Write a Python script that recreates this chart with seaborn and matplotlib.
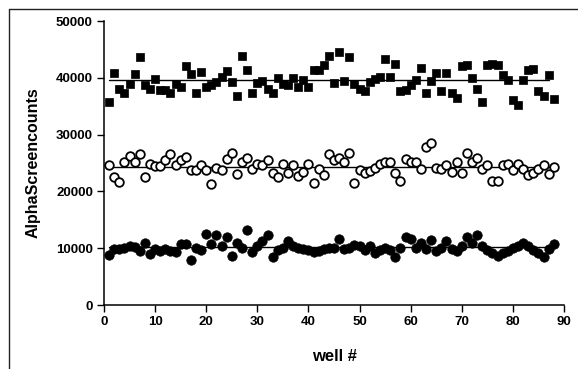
import numpy as np
import pandas as pd
import matplotlib
matplotlib.use("Agg")
import matplotlib.pyplot as plt
import seaborn as sns
from matplotlib.lines import Line2D

wells = list(range(1, 89))

squares = [35.8, 40.9, 38.0, 37.3, 38.9, 40.6, 43.7, 38.7, 38.0, 39.8,
           37.9, 37.9, 37.4, 38.9, 38.3, 42.0, 40.6, 37.4, 41.1, 38.4,
           38.7, 39.3, 40.1, 41.2, 39.2, 36.8, 43.9, 41.3, 37.3, 39.1,
           39.5, 38.1, 37.4, 40.0, 38.9, 38.7, 40.0, 38.4, 39.6, 38.4,
           41.3, 41.3, 42.3, 43.9, 39.1, 44.6, 39.5, 43.6, 38.9, 38.0,
           37.7, 39.3, 39.8, 40.1, 43.3, 40.1, 42.5, 37.6, 37.8, 38.7,
           39.7, 41.7, 37.4, 39.5, 40.9, 37.6, 40.8, 37.4, 36.4, 42.0,
           42.3, 39.9, 38.0, 35.8, 42.3, 42.4, 42.3, 40.5, 39.6, 36.1,
           35.2, 39.7, 41.3, 41.5, 37.6, 36.8, 40.5, 36.2]

open_circles = [24.6, 22.6, 21.7, 25.1, 26.2, 25.1, 26.5, 22.6, 24.9, 24.4,
                24.5, 25.5, 26.5, 24.6, 25.5, 26.1, 23.8, 23.8, 24.6, 23.8,
                21.3, 24.1, 23.8, 25.7, 26.7, 23.1, 25.1, 25.9, 23.9, 24.8,
                24.6, 25.5, 23.2, 22.6, 24.8, 23.3, 24.6, 22.7, 23.5, 24.8,
                21.4, 23.9, 22.8, 26.6, 25.5, 25.9, 25.2, 26.7, 21.5, 23.8,
                23.2, 23.6, 24.1, 24.8, 25.2, 25.2, 23.2, 21.9, 25.7, 25.2,
                25.1, 23.9, 27.9, 28.5, 24.1, 23.9, 24.6, 23.5, 25.2, 23.3,
                26.7, 25.2, 25.8, 23.9, 24.6, 21.8, 21.8, 24.6, 24.8, 23.8,
                24.8, 23.9, 22.9, 23.3, 23.9, 24.6, 23.0, 24.3]

filled_circles = [8.8, 9.9, 9.9, 10.1, 10.4, 10.2, 9.5, 10.9, 8.9, 9.8,
                  9.5, 9.8, 9.5, 9.3, 10.7, 10.7, 7.9, 10.0, 9.7, 12.5,
                  10.7, 12.4, 10.3, 11.9, 8.6, 11.0, 10.0, 13.2, 9.4, 10.3,
                  11.2, 12.4, 8.5, 9.7, 10.0, 11.2, 10.3, 10.0, 9.9, 9.7,
                  9.4, 9.5, 9.9, 10.0, 10.1, 11.6, 9.9, 10.0, 10.6, 10.3,
                  9.7, 10.3, 9.1, 9.7, 10.0, 9.7, 8.5, 10.0, 12.0, 11.7,
                  10.1, 10.9, 9.9, 11.4, 9.5, 10.0, 11.3, 9.9, 9.5, 10.3,
                  12.0, 11.0, 12.4, 10.4, 9.7, 9.1, 8.7, 9.1, 9.5, 10.0,
                  10.4, 10.9, 10.3, 9.7, 9.1, 8.5, 9.9, 10.7]

x_ticks = [0, 10, 20, 30, 40, 50, 60, 70, 80, 90]
y_ticks = [0, 10000, 20000, 30000, 40000, 50000]
y_label = "AlphaScreencounts"
x_label = "well #"

sns.set_style("ticks")
plt.rcParams['font.family'] = ['Liberation Sans', 'DejaVu Sans']

fig = plt.figure(figsize=(5.78, 3.69), dpi=100)
ax = fig.add_axes([104/578, 1 - 305/369, 460/578, 284/369])

series = [
    (squares, "s", "black", "black", 6.3, 0.5),
    (open_circles, "o", "white", "black", 6.2, 1.3),
    (filled_circles, "o", "black", "black", 6.8, 0.5),
]
for vals, mk, fc, ec, ms, lw in series:
    df = pd.DataFrame({"well": wells, "counts": np.array(vals) * 1000})
    sns.scatterplot(data=df, x="well", y="counts", marker=mk, s=ms**2,
                    facecolor=fc, edgecolor=ec, linewidth=lw, ax=ax,
                    zorder=3, legend=False)
    m = df["counts"].mean()
    ax.plot([1, 87], [m, m], color="black", lw=1.0, zorder=2)

ax.set_xlim(0, 90)
ax.set_ylim(0, 50000)
ax.set_xticks(x_ticks)
ax.set_yticks(y_ticks)
ax.set_xticklabels([str(t) for t in x_ticks], fontsize=9.5, fontweight="bold")
ax.set_yticklabels([str(t) for t in y_ticks], fontsize=9.5, fontweight="bold")
ax.tick_params(axis="both", direction="out", length=5, width=1, color="black",
               pad=3, labelcolor="black")
sns.despine(ax=ax)
for sp in ["left", "bottom"]:
    ax.spines[sp].set_linewidth(1.1)
    ax.spines[sp].set_color("black")
ax.set_xlabel(x_label, fontsize=12, fontweight="bold", labelpad=15, color="black")
ax.set_ylabel(y_label, fontsize=11.5, fontweight="bold", labelpad=11, color="black")

# scanned frame lines (top and left)
fig.add_artist(Line2D([9/578, 1], [1 - 9/369, 1 - 9/369], color="#222222", lw=1.0,
                      transform=fig.transFigure))
fig.add_artist(Line2D([9/578, 9/578], [0, 1 - 9/369], color="#222222", lw=1.0,
                      transform=fig.transFigure))

fig.savefig("out.png", dpi=100)
